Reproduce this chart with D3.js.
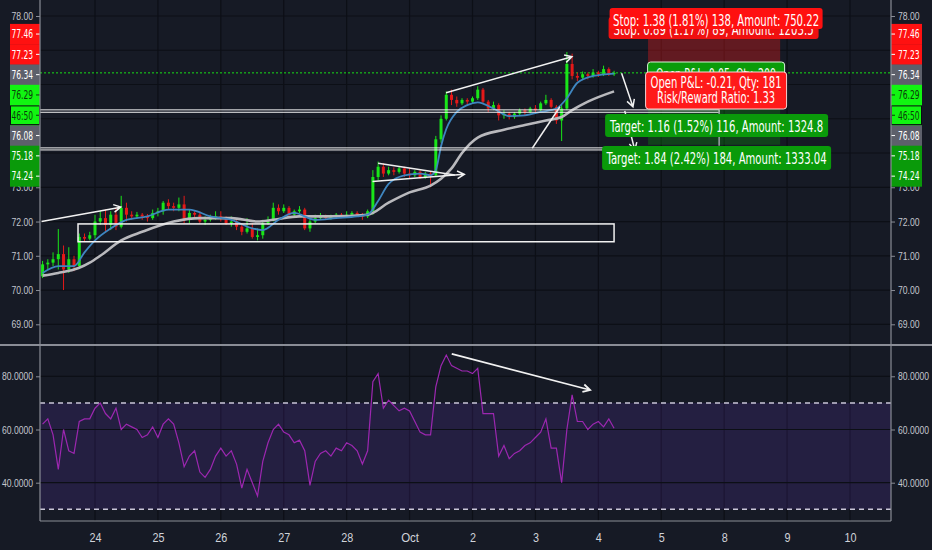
<!DOCTYPE html>
<html>
<head>
<meta charset="utf-8">
<script src="https://cdn.jsdelivr.net/npm/d3@7"></script>
<style>
  html, body { margin: 0; padding: 0; background: #161a25; }
  svg { display: block; font-family: "Liberation Sans Narrow", "DejaVu Sans Condensed", Roboto, sans-serif; }
</style>
</head>
<body>
<svg id="chart" width="932" height="550"></svg>
<script>
// ---- data ----
const dayLabels = ["24", "25", "26", "27", "28", "Oct", "2", "3", "4", "5", "8", "9", "10"]
const priceTicks = [69, 70, 71, 72, 73, 74, 75, 76, 77, 78]
const rsiTicks = [40, 60, 80]
const rsiBands = [70, 30]

const firstOpen = 70.4
const closes = [
  70.75, 70.8, 70.9, 71.05, 70.6, 70.9, 70.7, 71.55, 71.5, 71.6,
  72.0, 72.1, 71.9, 72.2, 71.85, 72.4, 72.2, 72.15, 72.2, 72.15,
  72.1, 72.25, 72.3, 72.55, 72.45, 72.4, 72.5, 72.05, 72.25, 72.2,
  72.0, 72.05, 72.1, 72.15, 72.1, 71.95, 72.0, 71.85, 71.7, 71.8,
  71.55, 71.6, 71.95, 72.05, 72.4, 72.3, 72.4, 72.2, 72.3, 72.35,
  71.8, 72.0, 72.1, 72.15, 72.1, 72.15, 72.2, 72.15, 72.2, 72.25,
  72.2, 72.15, 72.3, 73.3, 73.6, 73.4, 73.5, 73.45, 73.55, 73.4,
  73.35, 73.45, 73.3, 73.4, 73.35, 74.4, 75.0, 75.7, 75.55, 75.45,
  75.55, 75.5, 75.6, 75.85, 75.5, 75.3, 75.4, 75.1, 75.15, 75.05,
  75.15, 75.25, 75.2, 75.3, 75.25, 75.45, 75.55, 75.35, 74.95, 75.3,
  76.6, 76.25, 76.2, 76.3, 76.25, 76.35, 76.3, 76.45, 76.3, 76.34
]
const highs = [
  70.85, 70.9, 71.1, 71.78, 71.3, 71.25, 71.0, 71.65, 71.65, 71.7,
  72.2, 72.3, 72.35, 72.3, 72.4, 72.75, 72.55, 72.3, 72.28, 72.25,
  72.22, 72.35, 72.4, 72.6, 72.65, 72.55, 72.7, 72.75, 72.35, 72.3,
  72.3, 72.15, 72.2, 72.3, 72.3, 72.15, 72.15, 72.05, 71.95, 72.1,
  71.95, 71.8, 72.05, 72.15, 72.55, 72.5, 72.5, 72.45, 72.35, 72.45,
  72.4, 72.1, 72.2, 72.25, 72.2, 72.2, 72.25, 72.25, 72.3, 72.3,
  72.3, 72.25, 72.35, 73.5, 73.75, 73.7, 73.6, 73.58, 73.62, 73.6,
  73.55, 73.5, 73.5, 73.45, 73.45, 74.5, 75.1, 75.8, 75.85, 75.65,
  75.6, 75.6, 75.65, 75.95, 75.9, 75.55, 75.5, 75.45, 75.25, 75.2,
  75.2, 75.3, 75.3, 75.35, 75.4, 75.5, 75.7, 75.6, 75.4, 75.4,
  76.95, 76.9, 76.35, 76.38, 76.35, 76.45, 76.4, 76.55, 76.5, 76.4
]
const lows = [
  70.35, 70.6, 70.7, 70.6, 70.0, 70.5, 70.55, 70.65, 71.4, 71.45,
  71.5, 71.9, 71.7, 71.75, 71.75, 71.8, 72.0, 72.05, 72.08, 72.05,
  72.0, 72.05, 72.15, 72.2, 72.35, 72.3, 72.3, 71.95, 71.95, 72.1,
  71.95, 71.9, 72.0, 72.05, 72.0, 71.9, 71.85, 71.75, 71.6, 71.65,
  71.5, 71.45, 71.5, 71.9, 72.0, 72.2, 72.25, 72.15, 72.15, 72.25,
  71.75, 71.7, 71.95, 72.05, 72.05, 72.05, 72.1, 72.1, 72.1, 72.15,
  72.15, 72.05, 72.1, 72.2, 73.2, 73.3, 73.35, 73.35, 73.4, 73.3,
  73.25, 73.3, 73.25, 73.25, 73.0, 73.3, 74.3, 74.95, 75.4, 75.35,
  75.4, 75.4, 75.45, 75.55, 75.45, 75.2, 75.25, 74.95, 75.0, 74.98,
  75.0, 75.1, 75.1, 75.15, 75.2, 75.2, 75.4, 75.3, 74.85, 74.35,
  75.25, 76.15, 76.1, 76.15, 76.15, 76.2, 76.22, 76.25, 76.25, 76.25
]

// moving averages, sampled at bar indexes
const fastIdx = [0, 3, 6, 8, 10, 13, 16, 20, 24, 28, 32, 36, 40, 42, 45, 48, 52, 56, 60, 62, 64, 66, 69, 72, 74, 75, 76, 77, 79, 81, 83, 86, 89, 92, 95, 98, 100, 102, 105, 109]
const fastVal = [70.5, 70.7, 70.7, 71.1, 71.45, 71.8, 72.05, 72.15, 72.35, 72.35, 72.15, 72.05, 71.8, 71.75, 72.05, 72.25, 72.05, 72.1, 72.15, 72.2, 72.6, 73.1, 73.35, 73.4, 73.35, 73.5, 74.2, 74.7, 75.2, 75.4, 75.48, 75.3, 75.08, 75.1, 75.2, 75.3, 75.6, 76.05, 76.25, 76.32]
const slowIdx = [0, 3, 6, 7, 9, 11, 15, 19, 25, 30, 36, 41, 44, 49, 55, 62, 66, 70, 74, 76, 78, 80, 83, 88, 92, 96, 99, 101, 104, 109]
const slowVal = [70.42, 70.5, 70.6, 70.65, 70.8, 71.0, 71.45, 71.7, 72.0, 72.1, 72.1, 72.0, 72.05, 72.15, 72.15, 72.2, 72.55, 72.85, 73.05, 73.25, 73.55, 74.0, 74.45, 74.68, 74.82, 74.95, 75.05, 75.25, 75.5, 75.8]

const rsi = [
  62, 64, 58, 45, 60, 52, 51, 63, 64, 64,
  68, 70, 66, 64, 68, 60, 62, 61, 60, 57,
  58, 61, 57, 62, 64, 62, 55, 46, 50, 52,
  44, 42, 45, 50, 53, 50, 52, 47, 38, 45,
  40, 35, 48, 55, 60, 62, 59, 58, 55, 56,
  52, 39, 48, 51, 52, 50, 53, 52, 55, 54,
  52, 47, 52, 78, 81, 68, 71, 69, 67, 68,
  67, 63, 59, 58, 58, 76, 84, 88, 84, 83,
  82, 82, 81, 83, 66, 66, 66, 50, 54, 49,
  51, 52, 54, 55, 57, 59, 64, 53, 53, 40,
  60, 73, 63, 63, 60, 62, 63, 61, 64, 60.5
]

// price tags stacked on both axes
const tagTexts = ["77.46", "77.23", "76.34", "76.29", "46:50", "76.08", "75.18", "74.24"]
const tagKinds = ["stop", "stop", "last", "pnl", "timer", "entry", "target", "target"]
const lastPrice = 76.34

// position tool
const toolDays = [8.79, 10.89]
const stopPrice = 77.46, entryPrice = 76.08, targetPrice = 74.24
const stopText = "Stop: 1.38 (1.81%) 138, Amount: 750.22"
const stopBackText = "Stop: 0.89 (1.17%) 89, Amount: 1203.5"
const pnlLines = ["Open P&L: -0.21, Qty: 181", "Risk/Reward Ratio: 1.33"]
const pnlBackText = "Open P&L: 0.05, Qty: 209"
const targetTexts = ["Target: 1.16 (1.52%) 116, Amount: 1324.8", "Target: 1.84 (2.42%) 184, Amount: 1333.04"]

// drawings in [day, price] coordinates
const boxes = [
  [[-0.9, 75.26], [9.92, 75.19]],
  [[-0.9, 74.15], [9.92, 74.09]],
  [[-0.27, 71.93], [8.25, 71.41]]
]
const arrows = [
  [[-0.85, 72.0], [0.41, 72.42]],
  [[4.41, 73.17], [5.87, 73.38]],
  [[5.58, 75.76], [7.58, 76.81]],
  [[8.37, 76.33], [8.55, 75.35]],
  [[8.42, 75.23], [8.58, 74.09]]
]
const plainLines = [
  [[4.5, 73.7], [5.72, 73.36]],
  [[6.95, 74.14], [7.39, 75.35]],
  [[9.92, 75.2], [9.92, 74.21]]
]
const rsiArrows = [[[5.67, 88.4], [7.87, 74.85]]]

// ---- layout ----
const left = 40, right = 891, sepY = 345, rsiBottom = 521
const svg = d3.select("#chart")
const bg = "#161a25", grid = "#0c0f16", axisCol = "#8a8d96", textCol = "#c3c6ce"

const x = d3.scaleLinear().domain([0, 12]).range([95, 850])
const y = d3.scaleLinear().domain([69, 78]).range([324.3, 16])
const yR = d3.scaleLinear().domain([40, 80]).range([482.7, 376.3])
const barDay = i => (i - 10) / 12   // 12 bars a session, first session partial

const tagTop = 23.9, tagH = 20.3
// axis labels hidden under the tag stack are not drawn
const labelTicks = priceTicks.filter(p => y(p) < tagTop || y(p) > tagTop + tagTexts.length * tagH - 4)

// the reference uses a narrow face; squeeze glyphs to its widths
const glyphW = { ".": 2.8, ":": 2.8, "O": 6.4, "c": 4.4, "t": 3.2 }
const narrowW = (s, k = 1) => d3.sum([...s], ch => (glyphW[ch] || 4.7) * k)
const squeeze = (sel, k) => sel
  .attr("textLength", function () { return narrowW(this.textContent, k) })
  .attr("lengthAdjust", "spacingAndGlyphs")

svg.append("rect").attr("width", 932).attr("height", 550).attr("fill", bg)

const defs = svg.append("defs")
defs.append("clipPath").attr("id", "clipMain").append("rect")
  .attr("x", left).attr("y", 0).attr("width", right - left).attr("height", sepY - 1)
defs.append("clipPath").attr("id", "clipRsi").append("rect")
  .attr("x", left).attr("y", sepY + 1).attr("width", right - left).attr("height", rsiBottom - sepY - 1)

// grid
const gridG = svg.append("g").attr("stroke", grid).attr("stroke-width", 1.2)
gridG.selectAll(".v").data(d3.range(dayLabels.length)).join("line")
  .attr("x1", d => x(d)).attr("x2", d => x(d)).attr("y1", 0).attr("y2", rsiBottom)
gridG.selectAll(".h").data(priceTicks).join("line").attr("class", "h")
  .attr("x1", left).attr("x2", right).attr("y1", d => y(d)).attr("y2", d => y(d))

// RSI band
const rsiG = svg.append("g").attr("clip-path", "url(#clipRsi)")
rsiG.append("rect")
  .attr("x", left).attr("width", right - left)
  .attr("y", yR(rsiBands[0])).attr("height", yR(rsiBands[1]) - yR(rsiBands[0]))
  .attr("fill", "#7b3fe4").attr("opacity", 0.15)
rsiG.selectAll(".rg").data(rsiTicks).join("line")
  .attr("x1", left).attr("x2", right).attr("y1", d => yR(d)).attr("y2", d => yR(d))
  .attr("stroke", grid).attr("stroke-width", 1.2)
rsiG.selectAll(".band").data(rsiBands).join("line")
  .attr("x1", left).attr("x2", right).attr("y1", d => yR(d)).attr("y2", d => yR(d))
  .attr("stroke", "#c9c6d8").attr("stroke-width", 1.5).attr("stroke-dasharray", "5,4")
rsiG.append("path").datum(rsi)
  .attr("fill", "none").attr("stroke", "#9c27b0").attr("stroke-width", 1.2)
  .attr("d", d3.line().x((d, i) => x(barDay(i))).y(d => yR(d)))

// main pane
const mainG = svg.append("g").attr("clip-path", "url(#clipMain)")

// position tool zones
mainG.append("rect")
  .attr("x", x(toolDays[0])).attr("width", x(toolDays[1]) - x(toolDays[0]))
  .attr("y", y(stopPrice)).attr("height", y(entryPrice) - y(stopPrice))
  .attr("fill", "#ff1a1a").attr("opacity", 0.33)
mainG.append("rect")
  .attr("x", x(toolDays[0])).attr("width", x(toolDays[1]) - x(toolDays[0]))
  .attr("y", y(entryPrice)).attr("height", y(targetPrice) - y(entryPrice))
  .attr("fill", "#0a9a0a").attr("opacity", 0.3)

// last price line
mainG.append("line")
  .attr("x1", left).attr("x2", right).attr("y1", y(lastPrice)).attr("y2", y(lastPrice))
  .attr("stroke", "#18e018").attr("stroke-width", 1).attr("stroke-dasharray", "2,2")

// candles
const bars = closes.map((c, i) => ({
  i, o: i === 0 ? firstOpen : closes[i - 1], c, h: highs[i], l: lows[i]
}))
const candleG = mainG.append("g")
candleG.selectAll(".wick").data(bars).join("line")
  .attr("x1", d => x(barDay(d.i))).attr("x2", d => x(barDay(d.i)))
  .attr("y1", d => y(d.h)).attr("y2", d => y(d.l))
  .attr("stroke", d => d.c >= d.o ? "#19e619" : "#e51919").attr("stroke-width", 1)
candleG.selectAll(".body").data(bars).join("rect")
  .attr("x", d => x(barDay(d.i)) - 1.5).attr("width", 3)
  .attr("y", d => y(Math.max(d.o, d.c)))
  .attr("height", d => Math.max(1, Math.abs(y(d.o) - y(d.c))))
  .attr("fill", d => d.c >= d.o ? "#19e619" : "#e51919")

// moving averages
const maLine = d3.line().x(d => x(barDay(d[0]))).y(d => y(d[1])).curve(d3.curveMonotoneX)
mainG.append("path").datum(d3.zip(slowIdx, slowVal))
  .attr("fill", "none").attr("stroke", "#b9b9bd").attr("stroke-width", 2.6).attr("d", maLine)
mainG.append("path").datum(d3.zip(fastIdx, fastVal))
  .attr("fill", "none").attr("stroke", "#3f86c0").attr("stroke-width", 1.8).attr("d", maLine)

// drawings
const drawG = mainG.append("g").attr("fill", "none").attr("stroke", "#f2f2f2").attr("stroke-width", 1.5)
drawG.selectAll(".box").data(boxes).join("rect")
  .attr("x", d => x(d[0][0])).attr("width", d => x(d[1][0]) - x(d[0][0]))
  .attr("y", d => y(d[0][1])).attr("height", d => y(d[1][1]) - y(d[0][1]))
  .attr("stroke-width", (d, i) => i < 2 ? 1 : 1.5)
drawG.selectAll(".pl").data(plainLines).join("line")
  .attr("x1", d => x(d[0][0])).attr("y1", d => y(d[0][1]))
  .attr("x2", d => x(d[1][0])).attr("y2", d => y(d[1][1]))
  .attr("stroke", (d, i) => i === 2 ? "#9da0a8" : "#eeeeee")

function arrowPath(p0, p1) {
  const ang = Math.atan2(p1[1] - p0[1], p1[0] - p0[0])
  const a = 0.5, len = 8
  const h1 = [p1[0] - len * Math.cos(ang - a), p1[1] - len * Math.sin(ang - a)]
  const h2 = [p1[0] - len * Math.cos(ang + a), p1[1] - len * Math.sin(ang + a)]
  return `M${p0}L${p1}M${h1}L${p1}L${h2}`
}
drawG.selectAll(".ar").data(arrows).join("path")
  .attr("d", d => arrowPath([x(d[0][0]), y(d[0][1])], [x(d[1][0]), y(d[1][1])]))
rsiG.selectAll(".ar").data(rsiArrows).join("path")
  .attr("fill", "none").attr("stroke", "#f2f2f2").attr("stroke-width", 1.8)
  .attr("d", d => arrowPath([x(d[0][0]), yR(d[0][1])], [x(d[1][0]), yR(d[1][1])]))

// position tool labels
const toolCx = (x(toolDays[0]) + x(toolDays[1])) / 2
const labelG = svg.append("g").attr("font-size", 15.5).attr("text-anchor", "middle")
function label(cx, top, w, h, fill, lines, textW, opts = {}) {
  labelG.append("rect")
    .attr("x", cx - w / 2).attr("y", top).attr("width", w).attr("height", h).attr("rx", 3)
    .attr("fill", fill).attr("stroke", opts.stroke || "none").attr("stroke-width", 1)
  lines.forEach((t, i) => {
    labelG.append("text")
      .attr("x", cx).attr("y", top + opts.base + i * 14.5)
      .attr("fill", opts.color || "#ffffff")
      .attr("textLength", textW[i]).attr("lengthAdjust", "spacingAndGlyphs")
      .text(t)
  })
}
label(toolCx - 0.5, 17, 210, 22, "#f01010", [stopBackText], [200], { base: 18 })
label(toolCx + 2, 8, 213, 21, "#ff1010", [stopText], [206], { base: 17.5 })
label(toolCx + 2, 62, 137, 16, "#0a9c0a", [pnlBackText], [120], { stroke: "#d8f0d8", base: 18 })
label(toolCx + 2, 72, 141, 37, "#ff1a1a", pnlLines, [131, 118], { stroke: "#f6d4d4", base: 16 })
label(toolCx + 2.5, 114, 223, 23, "#0a9a0a", [targetTexts[0]], [213], { base: 17.5 })
label(toolCx + 2.5, 146, 229, 24, "#0a9a0a", [targetTexts[1]], [220], { base: 17.5 })

// axes
const styleAxis = g => {
  g.select(".domain").remove()
  g.selectAll("line").attr("stroke", axisCol)
  g.selectAll("text").attr("fill", textCol).attr("font-size", 11.5).call(squeeze, 1)
}
svg.append("g").attr("transform", `translate(${left},0)`)
  .call(d3.axisLeft(y).tickValues(labelTicks).tickSize(4).tickPadding(3).tickFormat(d3.format(".2f")))
  .call(styleAxis)
svg.append("g").attr("transform", `translate(${right},0)`)
  .call(d3.axisRight(y).tickValues(labelTicks).tickSize(4).tickPadding(3).tickFormat(d3.format(".2f")))
  .call(styleAxis)
svg.append("g").attr("transform", `translate(${left},0)`)
  .call(d3.axisLeft(yR).tickValues(rsiTicks).tickSize(4).tickPadding(3).tickFormat(d3.format(".4f")))
  .call(styleAxis)
svg.append("g").attr("transform", `translate(${right},0)`)
  .call(d3.axisRight(yR).tickValues(rsiTicks).tickSize(4).tickPadding(3).tickFormat(d3.format(".4f")))
  .call(styleAxis)
svg.append("g").attr("transform", `translate(0,${rsiBottom})`)
  .call(d3.axisBottom(x).tickValues(d3.range(dayLabels.length)).tickSize(0).tickPadding(12)
    .tickFormat(d => dayLabels[d]))
  .call(g => g.select(".domain").remove())
  .call(g => g.selectAll("text").attr("fill", "#d0d3da").attr("font-size", 13).call(squeeze, 1.28))

// stacked price tags
const tagStyle = {
  stop:   { fill: "#ff1111", color: "#ffffff" },
  last:   { fill: "#5d606b", color: "#ffffff" },
  pnl:    { fill: "#11f511", color: "#0b3b0b" },
  timer:  { fill: "#11f511", color: "#0b3b0b", stroke: "#0b0d12" },
  entry:  { fill: "#5d606b", color: "#ffffff" },
  target: { fill: "#0a9a0a", color: "#ffffff" }
}
function drawTags(side) {
  const g = svg.append("g")
  const bx = side === "left" ? 10 : right
  const bw = side === "left" ? left - 10 : 31
  g.selectAll("rect").data(tagTexts).join("rect")
    .attr("x", bx).attr("width", bw)
    .attr("y", (d, i) => tagTop + i * tagH).attr("height", tagH + 0.4)
    .attr("fill", (d, i) => tagStyle[tagKinds[i]].fill)
  g.selectAll(".tb").data(tagTexts.filter((d, i) => tagStyle[tagKinds[i]].stroke)).join("rect")
    .attr("x", bx + 0.5).attr("width", bw - 1)
    .attr("y", tagTop + tagKinds.indexOf("timer") * tagH + 0.8).attr("height", tagH - 1.6)
    .attr("fill", "none").attr("stroke", "#0b0d12")
  g.selectAll("line").data(tagTexts).join("line")
    .attr("x1", side === "left" ? left - 4 : right).attr("x2", side === "left" ? left : right + 4)
    .attr("y1", (d, i) => tagTop + (i + 0.5) * tagH).attr("y2", (d, i) => tagTop + (i + 0.5) * tagH)
    .attr("stroke", (d, i) => tagStyle[tagKinds[i]].color)
  g.selectAll("text").data(tagTexts).join("text")
    .attr("x", side === "left" ? left - 7 : right + 7)
    .attr("y", (d, i) => tagTop + (i + 0.5) * tagH + 4.3)
    .attr("text-anchor", side === "left" ? "end" : "start")
    .attr("font-size", 12)
    .attr("fill", (d, i) => tagStyle[tagKinds[i]].color)
    .text(d => d)
    .call(squeeze, 1)
}
drawTags("left")
drawTags("right")

// frame lines
const frame = svg.append("g").attr("stroke", axisCol)
frame.append("line").attr("x1", left).attr("x2", left).attr("y1", 0).attr("y2", rsiBottom).attr("stroke-width", 1.2)
frame.append("line").attr("x1", right).attr("x2", right).attr("y1", 0).attr("y2", rsiBottom).attr("stroke-width", 1.2)
frame.append("line").attr("x1", left).attr("x2", right).attr("y1", rsiBottom).attr("y2", rsiBottom).attr("stroke-width", 1.2)
frame.append("line").attr("x1", 0).attr("x2", 932).attr("y1", sepY).attr("y2", sepY).attr("stroke-width", 2)
</script>
</body>
</html>
